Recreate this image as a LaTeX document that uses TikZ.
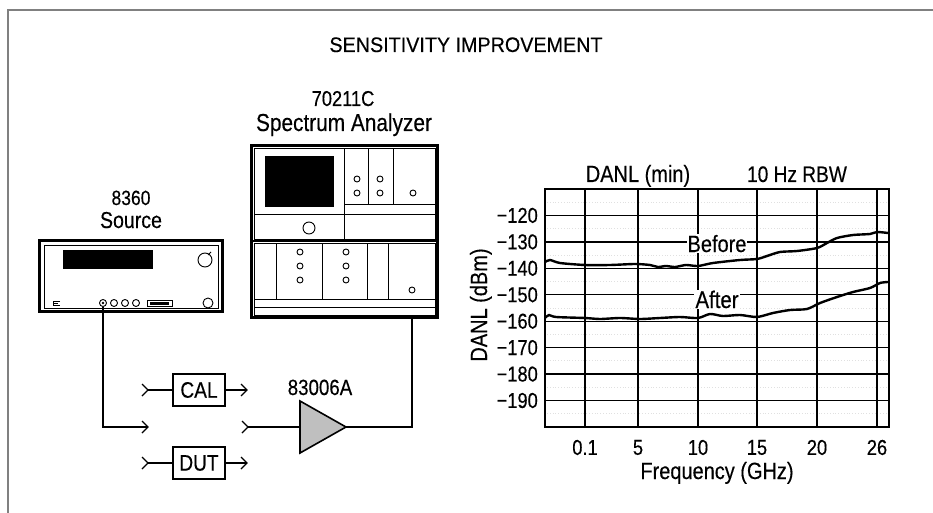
\documentclass[tikz,border=0pt]{standalone}
\usepackage{fontspec}
\setmainfont{Liberation Sans}
\newfontfamily\cnd[FakeStretch=0.85,FakeBold=0.3]{Liberation Sans}
\newfontfamily\ttl[FakeStretch=0.94,FakeBold=0.3]{Liberation Sans}
\begin{document}
\begin{tikzpicture}[x=1pt,y=-1pt,
  lbl/.style={inner sep=0pt, font=\cnd\fontsize{22}{24}\selectfont},
  ticklbl/.style={inner sep=0pt, font=\cnd\fontsize{21.5}{23}\selectfont},
  thinln/.style={line width=0.9pt},
  heavy/.style={line width=2.6pt},
  gridln/.style={line width=1.3pt},
  minorln/.style={line width=0.8pt, black!12, dotted},
  curve/.style={line width=2.4pt, line join=round, line cap=round},
  wire/.style={line width=1.2pt},
  unitbox/.style={draw, line width=2pt, inner sep=0pt, minimum width=52pt, minimum height=32pt, font=\cnd\fontsize{22.5}{24}\selectfont},
  chev/.pic={\draw[line width=1.2pt, line join=miter] (-6,-6) -- (0,0) -- (-6,6);}
]
\useasboundingbox (0,0) rectangle (933,513);
% outer frame
\draw[black!50, line width=1.8pt] (8,513) -- (8,10) -- (933,10);
% title
\node[inner sep=0pt, anchor=base, font=\ttl\fontsize{21}{23}\selectfont] (title) at (466,52) {SENSITIVITY IMPROVEMENT};

% ---------- Source ----------
\node[lbl, anchor=base, font=\cnd\fontsize{20.6}{22}\selectfont] (srcnum) at (131,205) {8360};
\node[lbl, anchor=base, font=\cnd\fontsize{23}{24}\selectfont] (srcname) at (131,228) {Source};
\node[draw, heavy, inner sep=0pt, minimum width=183pt, minimum height=71pt] (source) at (131,276) {};
\draw[thinln] (44,245) rectangle (218,308);
\fill (63,250) rectangle (153,269);
\draw[thinln] (205,260) circle[radius=7pt];
\draw[thinln] (208,255) -- (211,252);
\draw[thinln] (60,301) -- (53,301) -- (53,305) -- (60,305);
\draw[thinln] (53,303) -- (58,303);
\draw[thinln] (103,303) circle[radius=3.5pt];
\fill (103,303) circle[radius=1.3pt];
\foreach \xx in {114,125,136} \draw[thinln] (\xx,303) circle[radius=3.5pt];
\draw[thinln] (147,300) rectangle (172,306);
\fill (150,301.5) rectangle (169,304.5);
\draw[thinln] (208,303) circle[radius=5pt];
\coordinate (srcport) at (103,306.5);

% ---------- Spectrum analyzer ----------
\node[lbl, anchor=base, font=\cnd\fontsize{21.5}{23}\selectfont] (anum) at (343,106) {70211C};
\node[lbl, anchor=base, font=\cnd\fontsize{24.5}{26}\selectfont] (aname) at (344,131) {Spectrum Analyzer};
\node[draw, heavy, inner sep=0pt, minimum width=186.4pt, minimum height=172.4pt] (analyzer) at (344.5,231.5) {};
\draw[thinln] (254,148.5) rectangle (435,239);
\draw[line width=2.4pt] (251,241) -- (438,241);
\draw[thinln] (254,243) rectangle (435,315);
% upper unit
\fill (265,156) rectangle (334,207);
\draw[thinln] (344,148.5) -- (344,239);
\draw[thinln] (254,214) -- (435,214);
\draw[thinln] (344,204) -- (435,204);
\draw[thinln] (368,148.5) -- (368,204);
\draw[thinln] (393,148.5) -- (393,204);
\foreach \px/\py in {357/179,357/193,380/179,380/193,413/193}
  \draw[thinln] (\px,\py) circle[radius=3pt];
\draw[thinln] (309,228) circle[radius=6pt];
% lower unit
\foreach \xx in {276,322,367,388} \draw[thinln] (\xx,243) -- (\xx,299);
\draw[thinln] (254,299) -- (435,299);
\draw[thinln] (254,307) -- (435,307);
\foreach \px/\py in {300/252,300/266,300/280,346/252,346/266,346/280,412/290}
  \draw[thinln] (\px,\py) circle[radius=3pt];
\coordinate (anain) at (412,317.7);

% ---------- CAL / DUT / amplifier ----------
\node[unitbox] (cal) at (199,390) {CAL};
\node[unitbox] (dut) at (199,463) {DUT};
\coordinate (calin) at (148,390);
\coordinate (calout) at (247,390);
\coordinate (dutin) at (148,463);
\coordinate (dutout) at (247,463);
\draw[wire] (calin) -- (cal.west);
\draw[wire] (cal.east) -- (calout);
\draw[wire] (dutin) -- (dut.west);
\draw[wire] (dut.east) -- (dutout);
\pic at (calin) {chev};
\pic at (calout) {chev};
\pic at (dutin) {chev};
\pic at (dutout) {chev};

\coordinate (srcend) at (148,427);
\draw[wire] (srcport) |- (srcend);
\pic at (srcend) {chev};

\coordinate (ampin) at (300,427);
\coordinate (ampout) at (346,427);
\coordinate (ampjack) at (248,427);
\draw[line width=1.6pt, line join=miter, fill=black!25] (300,401) -- (ampout) -- (300,453) -- cycle;
\node[lbl, anchor=base] (amplbl) at (320,395) {83006A};
\pic at (ampjack) {chev};
\draw[wire] (ampjack) -- (ampin);
\draw[wire] (ampout) -| (anain);

% ---------- Plot ----------
\foreach \k in {0,...,8}
  \draw[minorln] (547,{189+26.44*(\k+0.5)}) -- (887,{189+26.44*(\k+0.5)});
\foreach \k in {1,...,8}
  \draw[gridln] (545,{189+26.44*\k}) -- (889,{189+26.44*\k});
\foreach \xx in {585,638,698,757,817,877}
  \draw[gridln] (\xx,189) -- (\xx,427);
\node[draw, line width=2pt, inner sep=0pt, minimum width=344pt, minimum height=238pt] (plot) at (717,308) {};

\foreach \v [count=\k] in {120,130,140,150,160,170,180,190}
  \node[ticklbl, anchor=east] at (538,{189+26.44*\k}) {−\v};
\foreach \xx/\t in {585/0.1,638/5,698/10,757/15,817/20,877/26}
  \node[ticklbl] at (\xx,447.5) {\t};

\node[lbl, anchor=base, font=\cnd\fontsize{23.5}{25}\selectfont] (xlab) at (717,479) {Frequency (GHz)};
\node[lbl, anchor=base, rotate=90, font=\cnd\fontsize{23.5}{25}\selectfont] (ylab) at (487,305) {DANL (dBm)};
\node[lbl, anchor=base, font=\cnd\fontsize{23.5}{25}\selectfont] (danl) at (638,182) {DANL (min)};
\node[lbl, anchor=base, font=\cnd\fontsize{22.5}{24}\selectfont] (rbw) at (797,182) {10 Hz RBW};

\draw[curve] plot[smooth, tension=0.45] coordinates {
 (545,262) (550,260) (560,263) (585,265) (610,265) (635,264) (650,265)
 (658,267) (666,266) (675,267) (686,265) (698,266) (713,263) (740,260)
 (757,259) (767,256) (780,252) (797,251) (817,248) (827,243) (837,238)
 (853,235) (870,234) (877,232) (888,233)};
\draw[curve] plot[smooth, tension=0.45] coordinates {
 (545,318) (549,315) (556,317) (585,318) (600,319) (620,318) (640,319)
 (660,318) (680,317) (698,318) (710,314) (723,316) (740,315) (757,317)
 (773,313) (790,310) (807,309) (820,303) (837,297) (853,292) (870,288)
 (880,283) (888,282)};

\node[lbl, anchor=base, fill=white, inner sep=1pt, font=\cnd\fontsize{23.5}{25}\selectfont] (before) at (717,252) {Before};
\node[lbl, anchor=base, fill=white, inner sep=1pt, font=\cnd\fontsize{24}{25}\selectfont] (after) at (717,308) {After};
\end{tikzpicture}
\end{document}
